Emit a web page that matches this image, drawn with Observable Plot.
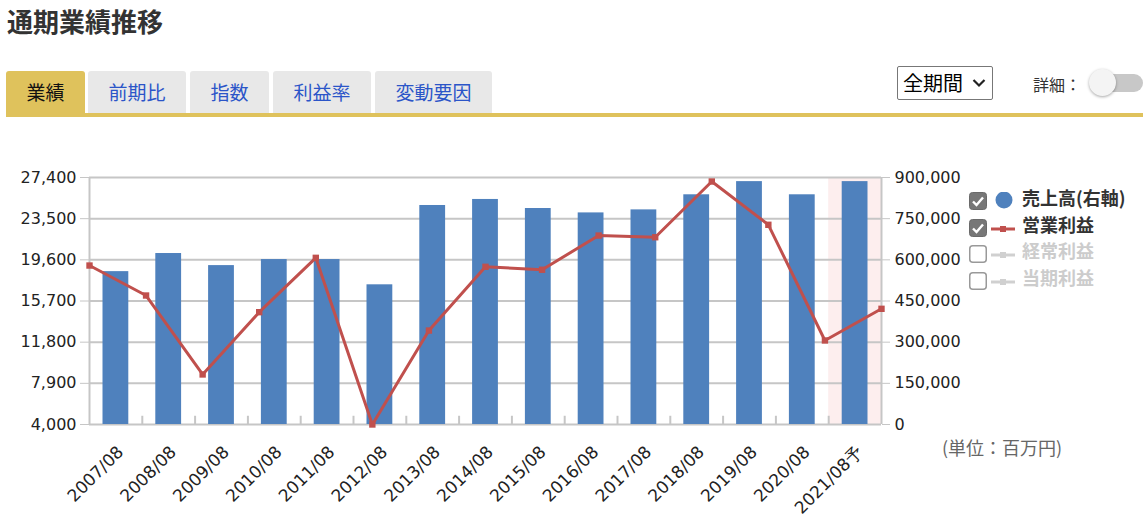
<!DOCTYPE html>
<html><head><meta charset="utf-8">
<script src="https://cdn.jsdelivr.net/npm/d3@7"></script>
<script src="https://cdn.jsdelivr.net/npm/@observablehq/plot@0.6"></script>
<style>
body{margin:0;background:#fff;font-family:"Noto Sans CJK JP","Noto Sans",sans-serif;}
#wrap{position:relative;width:1144px;height:525px;overflow:hidden;}
.abs{position:absolute;}
#title{left:7px;top:2px;font-size:26px;font-weight:bold;color:#333;}
.tab{top:71px;height:42px;line-height:42px;text-align:center;font-size:19px;background:#e8e8e8;color:#2b55c8;border-radius:3px 3px 0 0;}
.tab.on{background:#dfc25c;color:#111;}
#goldbar{left:6px;top:113px;width:1137px;height:4px;background:#dfc25c;}
#sel{left:897px;top:66px;width:94px;height:32px;border:1px solid #777;border-radius:2px;font-size:20px;line-height:32px;color:#000;}
#detail{left:1033px;top:72px;font-size:16px;color:#333;}
#track{left:1094px;top:74px;width:49px;height:18px;border-radius:9px;background:#c8c8c8;}
#knob{left:1089px;top:69px;width:27px;height:27px;border-radius:50%;background:#f4f4f4;box-shadow:0 1px 3px rgba(0,0,0,0.35);}
.plot{position:absolute;left:0;top:0;}
.lg{font-size:18px;font-weight:bold;color:#333;}
.lg.off{color:#ccc;}
#unit{left:942px;top:434px;font-size:18px;color:#666;}
</style></head>
<body><div id="wrap">
<div id="title" class="abs">通期業績推移</div>
<div class="abs tab on" style="left:6px;width:79px;">業績</div>
<div class="abs tab" style="left:88px;width:98px;">前期比</div>
<div class="abs tab" style="left:190px;width:79px;">指数</div>
<div class="abs tab" style="left:273px;width:98px;">利益率</div>
<div class="abs tab" style="left:375px;width:117px;">変動要因</div>
<div id="goldbar" class="abs"></div>
<div id="sel" class="abs"><span style="margin-left:5px">全期間</span>
<svg style="position:absolute;left:74px;top:11px" width="14" height="10"><path d="M1.5 2 L7 7.5 L12.5 2" stroke="#222" stroke-width="2.2" fill="none"/></svg></div>
<div id="detail" class="abs">詳細：</div>
<div id="track" class="abs"></div>
<div id="knob" class="abs"></div>
<div id="unit" class="abs">(単位：百万円)</div>
<div id="legend"></div>
</div>
<script>
// ---- data ----
const periods = ["2007/08","2008/08","2009/08","2010/08","2011/08","2012/08","2013/08","2014/08","2015/08","2016/08","2017/08","2018/08","2019/08","2020/08","2021/08予"];
const sales = [557000,623000,579000,601000,601000,509000,798000,820000,787000,771000,782000,837000,885000,837000,885000];
const opProfit = [19060,16220,8740,14640,19790,4000,12900,18940,18660,21900,21740,27020,22920,11960,14960];
const leftTicks = [4000,7900,11800,15700,19600,23500,27400];
const rightTicks = [0,150000,300000,450000,600000,750000,900000];
const forecastPeriod = ["2021/08予"];
const legendItems = [
  {label:"売上高(右軸)", checked:true, kind:"dot"},
  {label:"営業利益", checked:true, kind:"line"},
  {label:"経常利益", checked:false, kind:"line"},
  {label:"当期利益", checked:false, kind:"line"}
];

const rows = periods.map((p,i)=>({period:p, sales:sales[i], op:opProfit[i]}));
const W=1144,H=525,ML=89,MR=263,MT=177,MB=101;
const step=(W-ML-MR)/periods.length;
const common = {width:W,height:H,marginLeft:ML,marginRight:MR,marginTop:MT,marginBottom:MB,
  style:{fontFamily:"DejaVu Sans",fontSize:"16px",background:"transparent",color:"#222"}};

const p1 = Plot.plot({...common,
  x:{domain:periods,padding:0,round:false,axis:null},
  y:{domain:[0,900000],axis:null},
  marks:[
    Plot.barY(forecastPeriod,{x:d=>d,y1:0,y2:900000,fill:"#fdeeee"}),
    Plot.gridY(rightTicks,{stroke:"#c6c6c6",strokeOpacity:1,strokeWidth:2}),
    Plot.ruleX([periods[0]],{dx:-step/2,stroke:"#c6c6c6",strokeWidth:2}),
    Plot.ruleX([periods[periods.length-1]],{dx:step/2,stroke:"#c6c6c6",strokeWidth:2}),
    Plot.ruleX(periods.slice(1),{dx:-step/2,y1:0,y2:30000,stroke:"#c6c6c6",strokeWidth:2}),
    Plot.barY(rows,{x:"period",y:"sales",fill:"#4f81bd",insetLeft:13.5,insetRight:13.5}),
    Plot.axisY(rightTicks,{anchor:"right",label:null,tickSize:8,tickPadding:5,stroke:"#c6c6c6",fill:"#222",fontSize:16,tickFormat:d3.format(",")}),
    Plot.axisX(periods,{anchor:"bottom",label:null,tickSize:0,rotate:-45,textAnchor:"end",tickPadding:8,dx:0,dy:12,fill:"#222",fontSize:17})
  ]});
p1.classList.add("plot");
document.getElementById("wrap").appendChild(p1);

const p2 = Plot.plot({...common,
  x:{domain:periods,padding:0,round:false,axis:null},
  y:{domain:[4000,27400],axis:null},
  marks:[
    Plot.lineY(rows,{x:"period",y:"op",stroke:"#c0504d",strokeWidth:3}),
    Plot.dot(rows,{x:"period",y:"op",symbol:"square",fill:"#c0504d",r:3.6}),
    Plot.axisY(leftTicks,{anchor:"left",label:null,tickSize:9,tickPadding:4,stroke:"#c6c6c6",fill:"#222",fontSize:16,tickFormat:d3.format(",")})
  ]});
p2.classList.add("plot");
document.getElementById("wrap").appendChild(p2);

// legend
const lg = document.getElementById("legend");
legendItems.forEach((it,i)=>{
  const top = 191 + i*26.5;
  const box = document.createElement("div");
  box.className="abs";
  box.style.cssText=`left:969px;top:${top}px;width:18px;height:18px;`;
  box.innerHTML = it.checked
    ? `<svg width="18" height="18"><rect x="0.5" y="0.5" width="17" height="17" rx="3" fill="#777" stroke="#6a6a6a"/><path d="M4 9.5 L7.5 13 L14 5.5" stroke="#fff" stroke-width="2.4" fill="none"/></svg>`
    : `<svg width="18" height="18"><rect x="0.75" y="0.75" width="16.5" height="16.5" rx="3" fill="#fff" stroke="#999" stroke-width="1.5"/></svg>`;
  lg.appendChild(box);
  const ic = document.createElement("div");
  ic.className="abs";
  ic.style.cssText=`left:990px;top:${top}px;width:28px;height:18px;`;
  const col = it.checked ? "#c0504d" : "#d0d0d0";
  ic.innerHTML = it.kind==="dot"
    ? `<svg width="28" height="18"><circle cx="14" cy="8" r="8.5" fill="#4f81bd"/></svg>`
    : `<svg width="28" height="18"><line x1="1" y1="10" x2="25" y2="10" stroke="${col}" stroke-width="3"/><rect x="10" y="7" width="6" height="6" fill="${col}"/></svg>`;
  lg.appendChild(ic);
  const t = document.createElement("div");
  t.className="abs lg"+(it.checked?"":" off");
  t.style.cssText=`left:1022px;top:${top-7}px;`;
  t.textContent=it.label;
  lg.appendChild(t);
});
</script>
</body></html>
